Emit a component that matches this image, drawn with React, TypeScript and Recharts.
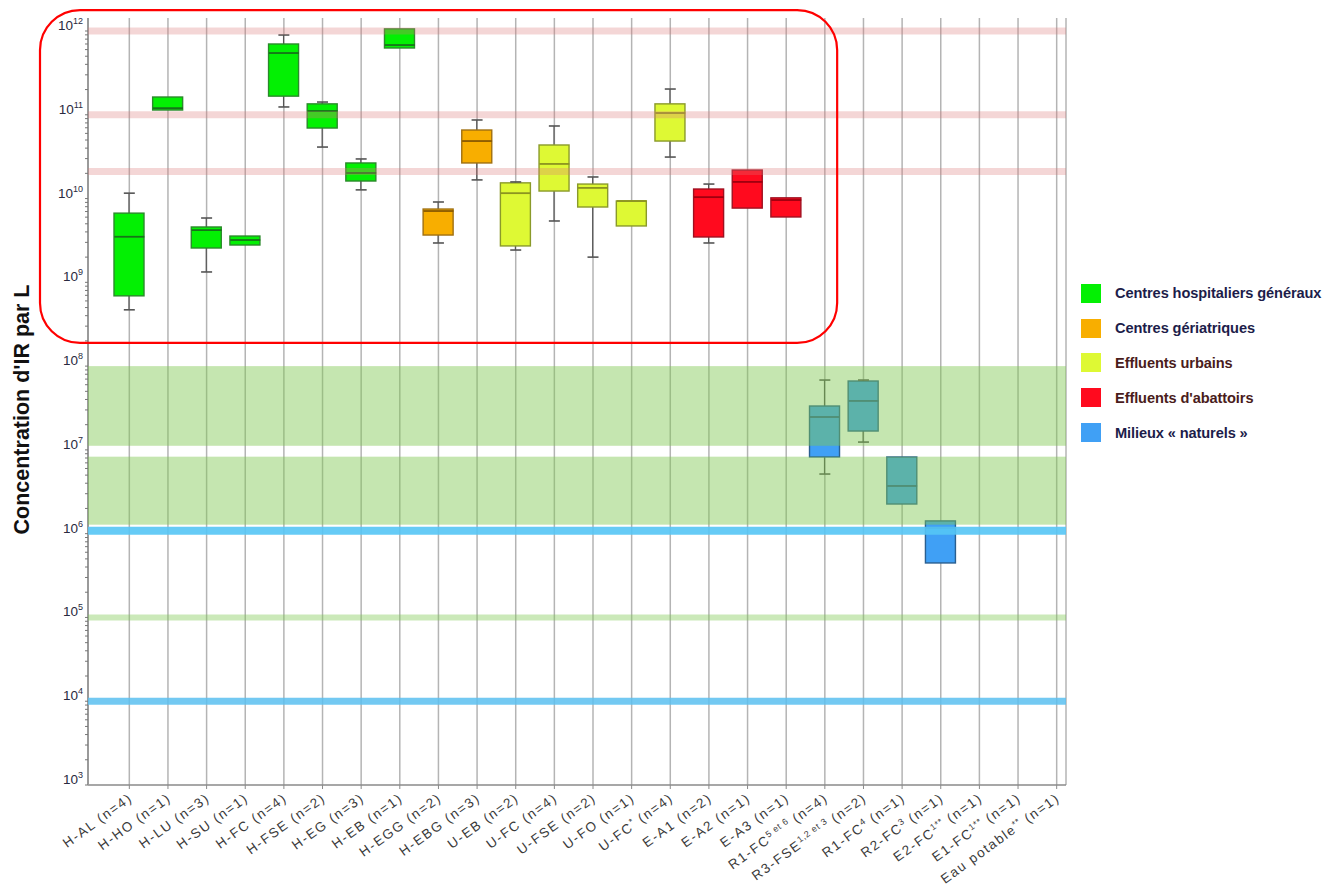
import React from "react";
import {
  ComposedChart,
  Bar,
  Scatter,
  XAxis,
  YAxis,
  CartesianGrid,
  ReferenceArea,
  ReferenceLine,
  Label,
} from "recharts";

// ---------- data ----------
const categoryBase = [
  "H-AL", "H-HO", "H-LU", "H-SU", "H-FC", "H-FSE", "H-EG", "H-EB", "H-EGG", "H-EBG",
  "U-EB", "U-FC", "U-FSE", "U-FO", "U-FC",
  "E-A1", "E-A2", "E-A3",
  "R1-FC", "R3-FSE", "R1-FC", "R2-FC",
  "E2-FC", "E1-FC", "Eau potable",
];
const categorySup = [
  "", "", "", "", "", "", "", "", "", "",
  "", "", "", "", "*",
  "", "", "",
  "5 et 6", "1,2 et 3", "4", "3",
  "1**", "1**", "**",
];
const sampleCounts = [4, 1, 3, 1, 4, 2, 3, 1, 2, 3, 2, 4, 2, 1, 4, 2, 1, 1, 4, 2, 1, 1, 1, 1, 1];
const groups = [
  "H", "H", "H", "H", "H", "H", "H", "H", "G", "G",
  "U", "U", "U", "U", "U",
  "A", "A", "A",
  "N", "N", "N", "N",
  null, null, null,
];
const whiskerLow = [
  4.7e8, null, 1.33e9, null, 1.24e11, 4.12e10, 1.27e10, null, 2.95e9, 1.67e10,
  2.43e9, 5.4e9, 2.0e9, null, 3.13e10,
  2.95e9, null, null,
  5.15e6, 1.24e7, null, null,
  null, null, null,
];
const quartile1 = [
  6.9e8, 1.14e11, 2.57e9, 2.79e9, 1.67e11, 6.95e10, 1.62e10, 6.27e11, 3.67e9, 2.66e10,
  2.72e9, 1.23e10, 7.93e9, 4.71e9, 4.86e10,
  3.48e9, 7.7e9, 6.03e9,
  8.23e6, 1.68e7, 2.26e6, 4.47e5,
  null, null, null,
];
const medians = [
  3.5e9, 1.2e11, 4.2e9, 3.2e9, 5.46e11, 1.11e11, 2.02e10, 6.8e11, 7.1e9, 4.86e10,
  1.16e10, 2.59e10, 1.34e10, 9.35e9, 1.05e11,
  1.04e10, 1.58e10, 9.6e9,
  2.47e7, 3.84e7, 3.71e6, 1.17e6,
  null, null, null,
];
const quartile3 = [
  6.7e9, 1.63e11, 4.58e9, 3.57e9, 7.0e11, 1.35e11, 2.66e10, 1.06e12, 7.5e9, 6.58e10,
  1.54e10, 4.36e10, 1.49e10, 9.35e9, 1.35e11,
  1.3e10, 2.19e10, 1.02e10,
  3.34e7, 6.64e7, 8.23e6, 1.42e6,
  null, null, null,
];
const whiskerHigh = [
  1.16e10, null, 5.86e9, null, 8.96e11, 1.42e11, 2.97e10, null, 9.1e9, 8.67e10,
  1.58e10, 7.35e10, 1.81e10, null, 2.03e11,
  1.49e10, null, null,
  6.82e7, 6.82e7, null, null,
  null, null, null,
];

const majorTicks = [1e3, 1e4, 1e5, 1e6, 1e7, 1e8, 1e9, 1e10, 1e11, 1e12];
const minorMultipliers = [2, 3, 4, 5, 6, 7, 8, 9];

const legendLabels = [
  { key: "H", label: "Centres hospitaliers généraux" },
  { key: "G", label: "Centres gériatriques" },
  { key: "U", label: "Effluents urbains" },
  { key: "A", label: "Effluents d'abattoirs" },
  { key: "N", label: "Milieux « naturels »" },
];

// ---------- styles ----------
const FONT = "Arial, 'Liberation Sans', Helvetica, sans-serif";
const groupStyle: Record<string, { fill: string; stroke: string; median: string; text: string }> = {
  H: { fill: "#03f003", stroke: "#2b8a2b", median: "#17731a", text: "#1d1d4a" },
  G: { fill: "#f8ae00", stroke: "#a07010", median: "#8a5a00", text: "#1d1d4a" },
  U: { fill: "#def934", stroke: "#8a9a2a", median: "#8c9420", text: "#4a1c1c" },
  A: { fill: "#ff0a1e", stroke: "#a01020", median: "#a0000f", text: "#4a1c1c" },
  N: { fill: "#40a0f5", stroke: "#2a5f90", median: "#2a5f90", text: "#1d1d4a" },
};

const PAD_L = 22;
const PAD_R = -10;
const BOX_W = 30;

const names = categoryBase.map((b, i) => b + categorySup[i]);

const rows = names.map((name, i) => ({
  name,
  group: groups[i],
  box: quartile1[i] != null ? [quartile1[i], quartile3[i]] : null,
  whisker: whiskerLow[i] != null ? [whiskerLow[i], whiskerHigh[i]] : null,
  median: medians[i],
  wl: whiskerLow[i],
  wh: whiskerHigh[i],
}));

const allTicks: number[] = [];
majorTicks.forEach((t, i) => {
  allTicks.push(t);
  if (i < majorTicks.length - 1) minorMultipliers.forEach((m) => allTicks.push(t * m));
});

// ---------- shapes ----------
const isNum = (v: any) => typeof v === "number" && isFinite(v);

const BoxShape = (props: any) => {
  const { x, y, width, height, payload } = props;
  if (!payload || !payload.box || !isNum(x) || !isNum(y) || !isNum(height)) return <g />;
  const st = groupStyle[payload.group];
  return (
    <rect x={x} y={y} width={width} height={Math.max(height, 1)} fill={st.fill} stroke={st.stroke} strokeWidth={1.4} />
  );
};

const WhiskerShape = (props: any) => {
  const { x, y, width, height, payload } = props;
  if (!payload || !payload.whisker || !isNum(x) || !isNum(y) || !isNum(height)) return <g />;
  const cx = x + width / 2;
  return <line x1={cx} x2={cx} y1={y} y2={y + height} stroke="#555" strokeWidth={1.2} />;
};

const MedianShape = (props: any) => {
  const { cx, cy, payload } = props;
  if (!payload || payload.median == null || !isNum(cx) || !isNum(cy)) return <g />;
  const st = groupStyle[payload.group];
  return <line x1={cx - BOX_W / 2} x2={cx + BOX_W / 2} y1={cy} y2={cy} stroke={st.median} strokeWidth={1.8} />;
};

const makeCap = (key: string) => (props: any) => {
  const { cx, cy, payload } = props;
  if (!payload || payload[key] == null || !isNum(cx) || !isNum(cy)) return <g />;
  return <line x1={cx - 5.5} x2={cx + 5.5} y1={cy} y2={cy} stroke="#555" strokeWidth={1.6} />;
};
const CapLow = makeCap("wl");
const CapHigh = makeCap("wh");

// band across the whole plot: undo the axis padding
const BandShape = (props: any) => {
  const { x, y, width, height, fill, fillOpacity } = props;
  if (!isNum(x) || !isNum(y)) return <g />;
  return <rect x={x - PAD_L} y={y} width={width + PAD_L + PAD_R} height={height} fill={fill} fillOpacity={fillOpacity} />;
};

// ---------- ticks ----------
const YTick = (props: any) => {
  const { x, y, payload } = props;
  const lv = Math.log10(payload.value);
  const e = Math.round(lv);
  if (Math.abs(lv - e) > 1e-6) return <g />;
  return (
    <text x={x} y={y - 1} textAnchor="end" fontSize={13.5} fill="#2a2a40" fontFamily={FONT}>
      10
      <tspan dy={-6} fontSize={9}>{e}</tspan>
    </text>
  );
};

const XTick = (props: any) => {
  const { x, y, payload } = props;
  const i = names.indexOf(payload.value);
  if (i < 0) return <g />;
  const sup = categorySup[i];
  return (
    <g transform={`translate(${x + 4},${y + 9}) rotate(-36)`}>
      <text x={0} y={0} textAnchor="end" fontSize={13.5} fill="#3a3a3a" fontFamily={FONT} letterSpacing={1.6}>
        {categoryBase[i]}
        {sup ? (
          <>
            <tspan dy={-5} fontSize={9} letterSpacing={0.6}>{sup}</tspan>
            <tspan dy={5}>{` (n=${sampleCounts[i]})`}</tspan>
          </>
        ) : (
          <tspan>{` (n=${sampleCounts[i]})`}</tspan>
        )}
      </text>
    </g>
  );
};

const YTitle = (props: any) => {
  const vb = props.viewBox || { x: 0, y: 10, width: 80, height: 767 };
  const cx = vb.x + 14;
  const cy = vb.y + vb.height / 2 + 8;
  return (
    <text
      x={cx}
      y={cy}
      transform={`rotate(-90, ${cx}, ${cy})`}
      textAnchor="middle"
      dominantBaseline="central"
      fontSize={21.5}
      fontWeight="bold"
      fill="#111"
      fontFamily={FONT}
    >
      Concentration d'IR par L
    </text>
  );
};

const OutlineShape = (props: any) => {
  const { x, y, width, height } = props;
  if (!isNum(x) || !isNum(y)) return <g />;
  return (
    <rect x={x - 70} y={y} width={width + 63} height={height} rx={40} ry={40} fill="none" stroke="#ff0000" strokeWidth={2.2} />
  );
};

const bandFill = "rgb(126,200,80)";

export default function App() {
  return (
    <div style={{ position: "relative", width: 1322, height: 886, fontFamily: FONT }}>
      <ComposedChart
        width={1322}
        height={886}
        data={rows}
        margin={{ top: 10, right: 264, bottom: 4, left: 0 }}
      >
        <CartesianGrid horizontal={false} vertical stroke="#b4b4b4" strokeWidth={1.5} />
        <XAxis
          dataKey="name"
          interval={0}
          padding={{ left: PAD_L, right: PAD_R }}
          height={105}
          tick={<XTick />}
          tickSize={4}
          axisLine={{ stroke: "#8a8a8a", strokeWidth: 1.5 }}
          tickLine={{ stroke: "#8a8a8a" }}
        />
        <XAxis xAxisId="w" dataKey="name" hide padding={{ left: PAD_L, right: PAD_R }} />
        <YAxis
          scale="log"
          domain={[1e3, 1.43e12]}
          allowDataOverflow
          ticks={allTicks}
          interval={0}
          width={80}
          tick={<YTick />}
          tickSize={3}
          axisLine={{ stroke: "#9a9a9a", strokeWidth: 2 }}
          tickLine={{ stroke: "#777" }}
        >
          <Label content={<YTitle />} />
        </YAxis>

        <Bar xAxisId="w" dataKey="whisker" barSize={BOX_W} shape={<WhiskerShape />} isAnimationActive={false} />
        <Bar dataKey="box" barSize={BOX_W} shape={<BoxShape />} isAnimationActive={false} />
        <Scatter dataKey="median" shape={<MedianShape />} isAnimationActive={false} />
        <Scatter dataKey="wl" shape={<CapLow />} isAnimationActive={false} />
        <Scatter dataKey="wh" shape={<CapHigh />} isAnimationActive={false} />

        <ReferenceLine y={1e12} stroke="rgb(220,120,120)" strokeOpacity={0.3} strokeWidth={7} zIndex={700} />
        <ReferenceLine y={1e11} stroke="rgb(220,120,120)" strokeOpacity={0.3} strokeWidth={7} zIndex={700} />
        <ReferenceLine y={2.1e10} stroke="rgb(220,120,120)" strokeOpacity={0.3} strokeWidth={7} zIndex={700} />
        <ReferenceArea y1={1.12e7} y2={1e8} fill={bandFill} fillOpacity={0.45} stroke="none" shape={<BandShape />} zIndex={700} />
        <ReferenceArea y1={1.28e6} y2={8.3e6} fill={bandFill} fillOpacity={0.45} stroke="none" shape={<BandShape />} zIndex={700} />
        <ReferenceLine y={1.08e6} stroke="#55c5f5" strokeOpacity={0.9} strokeWidth={8} zIndex={710} />
        <ReferenceLine y={1e5} stroke={bandFill} strokeOpacity={0.4} strokeWidth={6} zIndex={700} />
        <ReferenceLine y={1e4} stroke="#5bc0f0" strokeOpacity={0.85} strokeWidth={7} zIndex={700} />

        <ReferenceArea
          x1={names[0]}
          x2={names[18]}
          y1={1.89e8}
          y2={1.78e12}
          ifOverflow="visible"
          shape={<OutlineShape />}
          zIndex={800}
        />
      </ComposedChart>

      <div style={{ position: "absolute", left: 1073, top: 268 }}>
        {legendLabels.map((l) => {
          const st = groupStyle[l.key];
          return (
            <div key={l.key} style={{ display: "flex", alignItems: "center", height: 34.8 }}>
              <div style={{ width: 20, height: 19, background: st.fill }} />
              <div
                style={{
                  marginLeft: 14,
                  fontSize: 14.6,
                  fontWeight: "bold",
                  color: st.text,
                  whiteSpace: "nowrap",
                  letterSpacing: -0.1,
                }}
              >
                {l.label}
              </div>
            </div>
          );
        })}
      </div>
    </div>
  );
}
